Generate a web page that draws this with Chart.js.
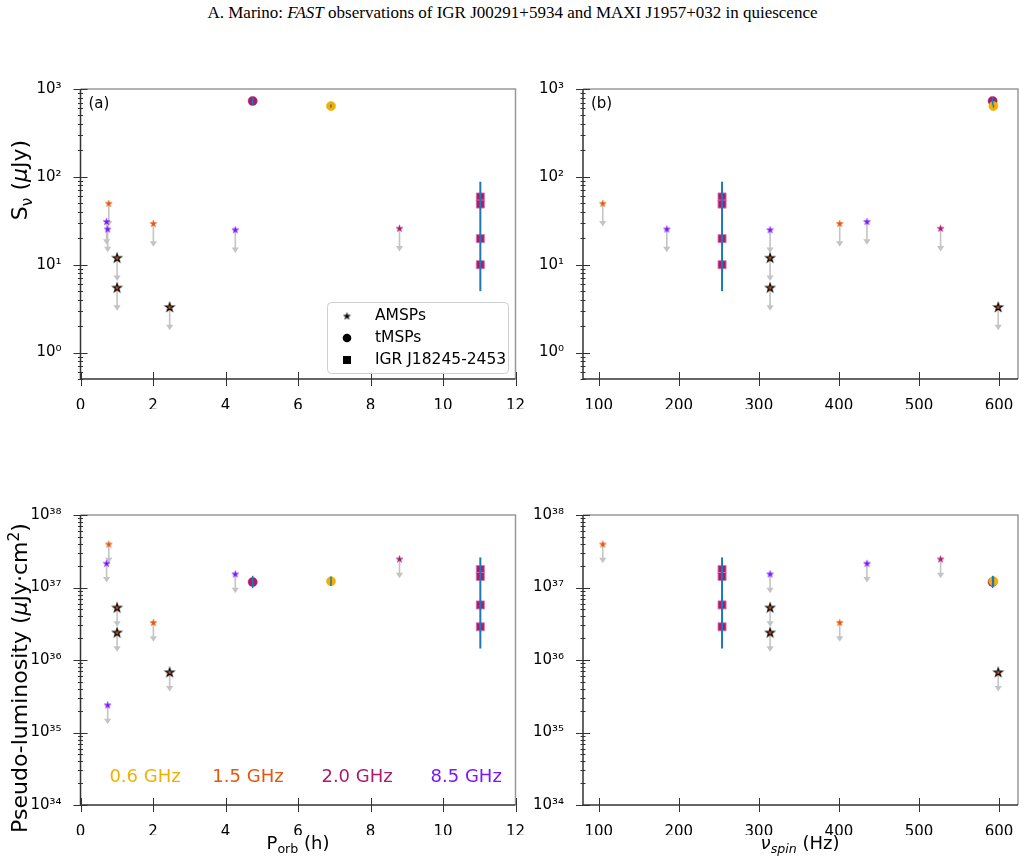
<!DOCTYPE html>
<html><head><meta charset="utf-8">
<script src="https://cdn.jsdelivr.net/npm/chart.js@4.4.1/dist/chart.umd.min.js"></script>
<style>
body{margin:0;background:#fff;width:1025px;height:864px;position:relative;overflow:hidden;font-family:"DejaVu Sans",sans-serif;color:#000;}
canvas{position:absolute;left:0;top:0;}
.title{position:absolute;top:3px;left:0;width:1025px;text-align:center;font-family:"Liberation Serif","Times New Roman",serif;font-size:17px;}
.ylab{position:absolute;width:400px;height:28px;line-height:28px;text-align:center;transform:rotate(-90deg);white-space:nowrap;font-size:22px;}
.xlab{position:absolute;width:300px;height:26px;line-height:26px;text-align:center;white-space:nowrap;font-size:18px;}
sub{font-size:70%;vertical-align:-0.3em;line-height:0;}
sup{font-size:70%;vertical-align:0.5em;line-height:0;}
</style></head>
<body>
<div class="title">A. Marino: <i>FAST</i> observations of IGR J00291+5934 and MAXI J1957+032 in quiescence</div>
<canvas id="ta" width="1025" height="864"></canvas>
<canvas id="tb" width="1025" height="864"></canvas>
<canvas id="ba" width="1025" height="864"></canvas>
<canvas id="bb" width="1025" height="864"></canvas>
<div class="ylab" style="left:-180px;top:166px;">S<sub>ν</sub> (<i>μ</i>Jy)</div>
<div class="ylab" style="left:-180px;top:664px;">Pseudo-luminosity (<i>μ</i>Jy·cm<sup>2</sup>)</div>
<div class="xlab" style="left:148px;top:830px;">P<sub>orb</sub> (h)</div>
<div class="xlab" style="left:650px;top:830px;"><i>ν<sub>spin</sub></i> (Hz)</div>
<script>
// ---------------- DATA ----------------
const bandNames = ['0.6 GHz', '1.5 GHz', '2.0 GHz', '8.5 GHz'];
const bandColors = ['#f2b000', '#e4570d', '#ac1a6e', '#7d14ff'];

// AMSPs from literature (upper limits)
const amspPorb = [0.78, 0.72, 0.75, 2.01, 4.27, 8.80];
const amspSpin = [105, 435, 185, 401, 314, 527];
const amspBand = ['1.5 GHz', '8.5 GHz', '8.5 GHz', '1.5 GHz', '8.5 GHz', '2.0 GHz'];
const amspFlux = [50, 31, 25.5, 29.5, 25, 26];
const amspLum = [3.98e37, 2.16e37, 2.4e35, 3.3e36, 1.54e37, 2.48e37];      // vs P_orb
const amspLumSpin = [3.98e37, 2.16e37, null, 3.3e36, 1.54e37, 2.48e37];   // vs nu_spin

// FAST upper limits (MAXI J1957+032 x2, IGR J00291+5934)
const fastPorb = [1.01, 1.01, 2.46];
const fastSpin = [314, 314, 599];
const fastFlux = [12, 5.5, 3.3];
const fastLum = [5.3e36, 2.4e36, 6.8e35];

// tMSPs (detections)
const tmspPorb = [4.75, 6.91];
const tmspSpin = [592, 593];
const tmspBand = ['2.0 GHz', '0.6 GHz'];
const tmspFlux = [730, 640];
const tmspFluxLo = [660, 615];
const tmspFluxHi = [810, 665];
const tmspLum = [1.19e37, 1.22e37];
const tmspLumLo = [0.98e37, 1.05e37];
const tmspLumHi = [1.45e37, 1.42e37];

// IGR J18245-2453
const igrPorb = [11.03, 11.03, 11.03, 11.03];
const igrSpin = [254, 254, 254, 254];
const igrFlux = [59, 49, 19.8, 10];
const igrLum = [1.77e37, 1.42e37, 5.75e36, 2.87e36];
const igrFluxRange = [5, 88];
const igrLumRange = [1.44e36, 2.6e37];

// axis ranges / ticks
const porbRange = [0, 12];
const porbTicks = [0, 2, 4, 6, 8, 10, 12];
const spinRange = [80.3, 623.7];
const spinTicks = [100, 200, 300, 400, 500, 600];
const fluxRange = [0.5, 1000];
const lumRange = [1e34, 1e38];
const ulFactor = 0.55; // length of upper-limit arrows

// ---------------- HELPERS ----------------
Chart.defaults.font.family = "'DejaVu Sans', sans-serif";
const bandColor = b => bandColors[bandNames.indexOf(b)];
const SUP = {'0':'⁰','1':'¹','2':'²','3':'³','4':'⁴','5':'⁵','6':'⁶','7':'⁷','8':'⁸','9':'⁹','-':'⁻'};
const sup = n => String(n).split('').map(c => SUP[c]).join('');
function isDecade(v){ const l = Math.log10(v); return Math.abs(l - Math.round(l)) < 1e-6; }
function logTicks(min, max){
  const t = [];
  for (let e = Math.floor(Math.log10(min)); e <= Math.ceil(Math.log10(max)); e++){
    for (let k = 1; k < 10; k++){
      const v = k * Math.pow(10, e);
      if (v >= min * 0.9999 && v <= max * 1.0001) t.push({value: v});
    }
  }
  return t;
}
function makeStar(fill, stroke, R, lw){
  const s = Math.ceil(2 * R + 2 * lw + 2);
  const c = document.createElement('canvas'); c.width = s; c.height = s;
  const g = c.getContext('2d'); const cx = s / 2, cy = s / 2 + R * 0.08; const r = R * 0.382;
  g.beginPath();
  for (let i = 0; i < 10; i++){
    const a = -Math.PI / 2 + i * Math.PI / 5; const rr = i % 2 ? r : R;
    const x = cx + rr * Math.cos(a), y = cy + rr * Math.sin(a);
    i ? g.lineTo(x, y) : g.moveTo(x, y);
  }
  g.closePath(); g.fillStyle = fill; g.fill();
  g.lineWidth = lw; g.strokeStyle = stroke; g.lineJoin = 'miter'; g.stroke();
  return c;
}

const YW = 60, XH = 30;
const boxes = {
  ta: {l: 80.5, r: 515.5, t: 89, b: 379},
  tb: {l: 583, r: 1018, t: 89, b: 379},
  ba: {l: 80.5, r: 515.5, t: 515, b: 805},
  bb: {l: 583, r: 1018, t: 515, b: 805}
};

const panelPlugin = {
  id: 'panel',
  beforeDatasetsDraw(chart, args, o){
    const xs = chart.scales.x, ys = chart.scales.y, ctx = chart.ctx;
    ctx.save();
    ctx.strokeStyle = '#c4c4c4'; ctx.fillStyle = '#c4c4c4'; ctx.lineWidth = 1.6;
    (o.arrows || []).forEach(a => {
      const x = xs.getPixelForValue(a.x), y0 = ys.getPixelForValue(a.y), y1 = ys.getPixelForValue(a.y * ulFactor);
      ctx.beginPath(); ctx.moveTo(x, y0); ctx.lineTo(x, y1 - 4); ctx.stroke();
      ctx.beginPath(); ctx.moveTo(x - 3.6, y1 - 5); ctx.lineTo(x + 3.6, y1 - 5); ctx.lineTo(x, y1 + 0.5); ctx.closePath(); ctx.fill();
    });
    ctx.restore();
  },
  afterDatasetsDraw(chart, args, o){
    const xs = chart.scales.x, ys = chart.scales.y, ctx = chart.ctx;
    ctx.save(); ctx.strokeStyle = '#1f77b4';
    (o.errbars || []).forEach(e => {
      ctx.lineWidth = e.w;
      const x = xs.getPixelForValue(e.x);
      ctx.beginPath(); ctx.moveTo(x, ys.getPixelForValue(e.lo)); ctx.lineTo(x, ys.getPixelForValue(e.hi)); ctx.stroke();
    });
    ctx.restore();
  },
  afterDraw(chart, args, o){
    const ctx = chart.ctx, a = chart.chartArea, xs = chart.scales.x, ys = chart.scales.y;
    ctx.save();
    // frame
    ctx.lineWidth = 1.5;
    ctx.strokeStyle = '#999';
    ctx.beginPath(); ctx.moveTo(a.left, a.top); ctx.lineTo(a.right, a.top); ctx.lineTo(a.right, a.bottom); ctx.stroke();
    ctx.strokeStyle = '#333';
    ctx.beginPath(); ctx.moveTo(a.left, a.top); ctx.lineTo(a.left, a.bottom); ctx.lineTo(a.right, a.bottom); ctx.stroke();
    // ticks
    ctx.lineWidth = 1; ctx.strokeStyle = '#333';
    ys.ticks.forEach(t => {
      const y = Math.round(ys.getPixelForValue(t.value)) + 0.5;
      const L = isDecade(t.value) ? 7 : 2.5;
      ctx.beginPath(); ctx.moveTo(a.left - L, y); ctx.lineTo(a.left + L, y); ctx.stroke();
    });
    xs.ticks.forEach(t => {
      const x = Math.round(xs.getPixelForValue(t.value)) + 0.5;
      ctx.beginPath(); ctx.moveTo(x, a.bottom - 7); ctx.lineTo(x, a.bottom + 7); ctx.stroke();
    });
    // panel label
    ctx.fillStyle = '#000'; ctx.font = "15px 'DejaVu Sans'"; ctx.textBaseline = 'middle'; ctx.textAlign = 'left';
    if (o.label) ctx.fillText(o.label, a.left + 8, a.top + 15);
    // legend
    if (o.legend){
      const lx = 327, ly = 302, lw = 181, lh = 71;
      ctx.fillStyle = 'rgba(255,255,255,0.85)'; ctx.strokeStyle = '#cfcfcf'; ctx.lineWidth = 1;
      ctx.beginPath(); ctx.roundRect(lx + 0.5, ly + 0.5, lw, lh, 4); ctx.fill(); ctx.stroke();
      const rows = [['AMSPs', 'star'], ['tMSPs', 'circle'], ['IGR J18245-2453', 'square']];
      rows.forEach((r, i) => {
        const yy = ly + 14 + i * 22, mx = lx + 20;
        ctx.fillStyle = '#000';
        if (r[1] === 'star') ctx.drawImage(blackStar, mx - blackStar.width / 2, yy - blackStar.height / 2);
        else if (r[1] === 'circle'){ ctx.beginPath(); ctx.arc(mx, yy, 4.3, 0, 2 * Math.PI); ctx.fill(); }
        else ctx.fillRect(mx - 4, yy - 4, 8, 8);
        ctx.font = "15.5px 'DejaVu Sans'"; ctx.textAlign = 'left'; ctx.textBaseline = 'middle';
        ctx.fillText(r[0], lx + 48, yy);
      });
    }
    // band labels
    if (o.bands){
      ctx.font = "18px 'DejaVu Sans'"; ctx.textAlign = 'center'; ctx.textBaseline = 'middle';
      o.bands.forEach(b => {
        ctx.fillStyle = bandColor(b.name);
        ctx.fillText(b.name, xs.getPixelForValue(b.x), ys.getPixelForValue(b.y));
      });
    }
    ctx.restore();
  }
};
Chart.register(panelPlugin);

const blackStar = makeStar('#000', '#000', 3.6, 0.5);
const bandStars = {};
bandNames.forEach((b, i) => bandStars[b] = makeStar(bandColors[i], bandColors[i], 3.6, 0.5));
const fastStar = makeStar('#d9560f', '#000', 4.4, 1.2);

function buildPanel(id, xKey, yKey, opts){
  const box = boxes[id];
  const amX = xKey === 'porb' ? amspPorb : amspSpin;
  const faX = xKey === 'porb' ? fastPorb : fastSpin;
  const tmX = xKey === 'porb' ? tmspPorb : tmspSpin;
  const igX = xKey === 'porb' ? igrPorb : igrSpin;
  const amY = yKey === 'flux' ? amspFlux : (xKey === 'porb' ? amspLum : amspLumSpin);
  const faY = yKey === 'flux' ? fastFlux : fastLum;
  const tmY = yKey === 'flux' ? tmspFlux : tmspLum;
  const tmLo = yKey === 'flux' ? tmspFluxLo : tmspLumLo;
  const tmHi = yKey === 'flux' ? tmspFluxHi : tmspLumHi;
  const igY = yKey === 'flux' ? igrFlux : igrLum;
  const igR = yKey === 'flux' ? igrFluxRange : igrLumRange;
  const xr = xKey === 'porb' ? porbRange : spinRange;
  const xt = xKey === 'porb' ? porbTicks : spinTicks;
  const yr = yKey === 'flux' ? fluxRange : lumRange;

  const amIdx = amX.map((x, i) => i).filter(i => amY[i] != null);
  const amPts = amIdx.map(i => ({x: amX[i], y: amY[i]}));
  const amStyles = amIdx.map(i => bandStars[amspBand[i]]);
  const arrows = amPts.concat(faX.map((x, i) => ({x, y: faY[i]})));
  const errbars = tmX.map((x, i) => ({x, lo: tmLo[i], hi: tmHi[i], w: 1.5}));
  errbars.push({x: igX[0], lo: igR[0], hi: igR[1], w: 2});

  new Chart(document.getElementById(id), {
    type: 'scatter',
    data: {datasets: [
      {data: faX.map((x, i) => ({x, y: faY[i]})), pointStyle: fastStar, pointRadius: 5},
      {data: amPts, pointStyle: amStyles, pointRadius: 4},
      {data: igX.map((x, i) => ({x, y: igY[i]})), pointStyle: 'rect', pointRadius: 5.7,
        backgroundColor: bandColor('2.0 GHz'), borderColor: 'rgba(214,120,175,0.9)', borderWidth: 1},
      {data: tmX.map((x, i) => ({x, y: tmY[i]})), pointStyle: 'circle', pointRadius: 4.6,
        backgroundColor: tmspBand.map(bandColor), borderColor: tmspBand.map(bandColor), borderWidth: 0.5}
    ]},
    options: {
      responsive: false, animation: false, events: [],
      layout: {padding: {left: box.l - YW, top: box.t, right: 1025 - box.r, bottom: 864 - box.b - XH}},
      plugins: {legend: {display: false}, tooltip: {enabled: false}, panel: Object.assign({arrows, errbars}, opts)},
      scales: {
        x: {type: 'linear', min: xr[0], max: xr[1],
          afterBuildTicks: s => { s.ticks = xt.map(v => ({value: v})); },
          afterFit: s => { s.height = XH; },
          grid: {display: false}, border: {display: false},
          ticks: {color: '#000', font: {size: 15}, padding: 10, maxRotation: 0, autoSkip: false}},
        y: {type: 'logarithmic', min: yr[0], max: yr[1],
          afterBuildTicks: s => { s.ticks = logTicks(yr[0], yr[1]); },
          afterFit: s => { s.width = YW; },
          grid: {display: false}, border: {display: false},
          ticks: {color: '#000', font: {size: 15}, padding: 11, autoSkip: false,
            callback: v => isDecade(v) ? '10' + sup(Math.round(Math.log10(v))) : ''}}
      }
    }
  });
}

buildPanel('ta', 'porb', 'flux', {label: '(a)', legend: true});
buildPanel('tb', 'spin', 'flux', {label: '(b)'});
buildPanel('ba', 'porb', 'lum', {bands: [
  {name: '0.6 GHz', x: 1.78, y: 2.4e34}, {name: '1.5 GHz', x: 4.62, y: 2.4e34},
  {name: '2.0 GHz', x: 7.63, y: 2.4e34}, {name: '8.5 GHz', x: 10.64, y: 2.4e34}]});
buildPanel('bb', 'spin', 'lum', {});
</script>
</body></html>
